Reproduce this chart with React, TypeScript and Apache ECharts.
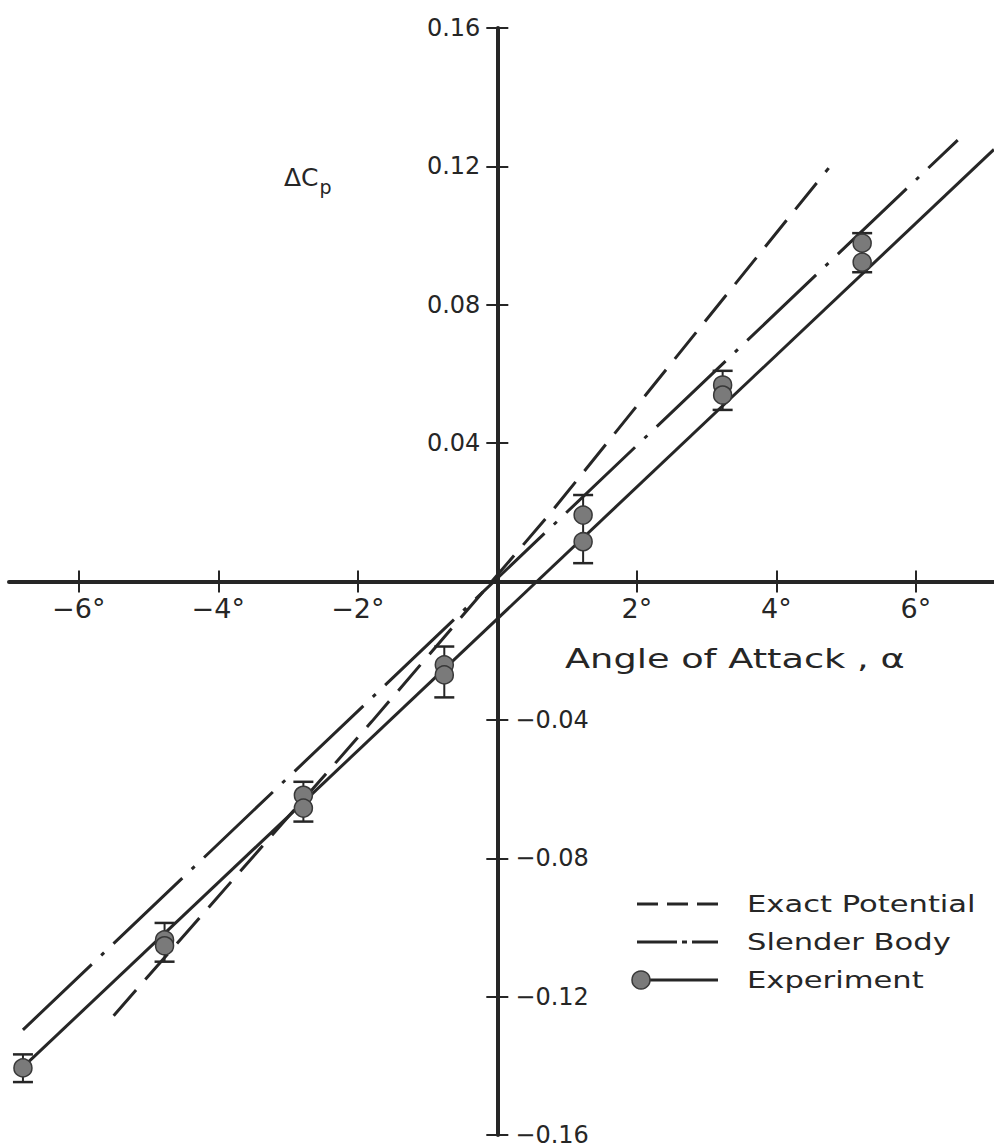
import React, { useEffect, useRef } from 'react';
import * as echarts from 'echarts';

// ---- tick values ----
const xTicks = [-6, -4, -2, 2, 4, 6];
const yTicks = [-0.16, -0.12, -0.08, -0.04, 0.04, 0.08, 0.12, 0.16];
const yLabelsPos = [0.04, 0.08, 0.12, 0.16];
const yLabelsNeg = [-0.16, -0.12, -0.08, -0.04];

// ---- experiment points (alpha in deg, delta Cp) ----
const expAlpha = [-6.8, -4.77, -4.77, -2.78, -2.78, -0.76, -0.76, 1.23, 1.23, 3.23, 3.23, 5.23, 5.23];
const expCp = [-0.1406, -0.1036, -0.1053, -0.0618, -0.0655, -0.0241, -0.027, 0.0192, 0.0115, 0.0568, 0.0539, 0.0978, 0.0923];

// ---- error bars ----
const errAlpha = [-6.8, -4.77, -2.78, -0.76, 1.23, 3.23, 5.23];
const errLow = [-0.1447, -0.1099, -0.0694, -0.0335, 0.0053, 0.0496, 0.0894];
const errHigh = [-0.1367, -0.0987, -0.0579, -0.0188, 0.025, 0.0609, 0.1007];

// ---- experiment fit line ----
const fitAlpha = [-6.8, 7.12];
const fitCp = [-0.1404, 0.1249];

// ---- slender body theory ----
const slenderAlpha = [-6.8, 6.6];
const slenderCp = [-0.1296, 0.1276];

// ---- exact potential theory ----
const exactAlpha = [-5.5, -1.8, 0.75, 4.75];
const exactCp = [-0.1255, -0.0405, 0.0195, 0.1195];

const ink = '#262626';
const font = 'DejaVu Sans';

const pairs = (a: number[], b: number[]) => a.map((v, i) => [v, b[i]]);

// layout (pixels)
const GRID_LEFT = 9;
const GRID_TOP = 28;
const GRID_BOTTOM = 13;
const X_MIN = -7;
const X_MAX = 7.12;
const Y_MIN = -0.16;
const Y_MAX = 0.16;

export default function App() {
  const ref = useRef<HTMLDivElement>(null);
  useEffect(() => {
    if (!ref.current) return;
    const chart = echarts.init(ref.current, null, { renderer: 'svg' });
    const W = 994;
    const H = 1148;
    const gridW = W - GRID_LEFT;
    const gridH = H - GRID_TOP - GRID_BOTTOM;
    // offsets that bring the axes to the origin
    const yAxisOffset = -((0 - X_MIN) / (X_MAX - X_MIN)) * gridW;
    const xAxisOffset = -((0 - Y_MIN) / (Y_MAX - Y_MIN)) * gridH;
    const tickStyle = { color: ink, width: 2 };
    const legendX0 = 637;
    const legendX1 = 718;
    const rowY = [904, 942, 980];
    const textX = 747;
    const legendText = (t: string, y: number) => ({
      type: 'text',
      x: textX,
      y,
      scaleX: 1.33,
      style: { text: t, fontSize: 23, fontFamily: font, fill: ink, verticalAlign: 'middle', align: 'left' },
    });
    const option: any = {
      animation: false,
      backgroundColor: '#ffffff',
      grid: { left: GRID_LEFT, right: 0, top: GRID_TOP, bottom: GRID_BOTTOM, containLabel: false, outerBoundsMode: 'none' },
      xAxis: [
        {
          type: 'value', min: X_MIN, max: X_MAX, position: 'bottom', offset: xAxisOffset,
          axisLine: { onZero: false, lineStyle: { color: ink, width: 4 } },
          axisTick: { show: true, length: 11, inside: false, customValues: xTicks, lineStyle: tickStyle },
          axisLabel: {
            show: true, customValues: xTicks, margin: 13, fontSize: 27, fontFamily: font, color: ink,
            formatter: (v: number) => (v < 0 ? '\u2212' : '') + Math.abs(v) + '°',
          },
          splitLine: { show: false },
        },
        {
          type: 'value', min: X_MIN, max: X_MAX, position: 'bottom', offset: xAxisOffset,
          axisLine: { show: false, onZero: false },
          axisTick: { show: true, length: 11, inside: true, customValues: xTicks, lineStyle: tickStyle },
          axisLabel: { show: false },
          splitLine: { show: false },
        },
      ],
      yAxis: [
        {
          type: 'value', min: Y_MIN, max: Y_MAX, position: 'left', offset: yAxisOffset,
          axisLine: { onZero: false, lineStyle: { color: ink, width: 4 } },
          axisTick: { show: true, length: 11, inside: false, customValues: yTicks, lineStyle: tickStyle },
          axisLabel: {
            show: true, customValues: yLabelsPos, margin: 17, fontSize: 24, fontFamily: font, color: ink,
            formatter: (v: number) => v.toFixed(2),
          },
          splitLine: { show: false },
        },
        {
          type: 'value', min: Y_MIN, max: Y_MAX, position: 'left', offset: yAxisOffset,
          axisLine: { show: false, onZero: false },
          axisTick: { show: true, length: 11, inside: true, customValues: yTicks, lineStyle: tickStyle },
          axisLabel: {
            show: true, inside: true, customValues: yLabelsNeg, margin: 18, fontSize: 24, fontFamily: font, color: ink,
            formatter: (v: number) => '\u2212' + Math.abs(v).toFixed(2),
          },
          splitLine: { show: false },
        },
      ],
      series: [
        {
          name: 'Exact Potential', type: 'line', data: pairs(exactAlpha, exactCp),
          symbol: 'none', lineStyle: { color: ink, width: 3, type: [34, 14] }, z: 3,
        },
        {
          name: 'Slender Body', type: 'line', data: pairs(slenderAlpha, slenderCp),
          symbol: 'none', lineStyle: { color: ink, width: 3, type: [95, 13, 4, 13] }, z: 3,
        },
        {
          name: 'Experiment fit', type: 'line', data: pairs(fitAlpha, fitCp),
          symbol: 'none', lineStyle: { color: ink, width: 3 }, z: 3,
        },
        {
          name: 'Error', type: 'custom',
          data: errAlpha.map((a, i) => [a, errLow[i], errHigh[i]]),
          encode: { x: 0, y: [1, 2] },
          renderItem: (params: any, api: any) => {
            const a = api.value(0);
            const lo = api.coord([a, api.value(1)]);
            const hi = api.coord([a, api.value(2)]);
            const w = 10;
            const st = { stroke: ink, lineWidth: 2.5 };
            return {
              type: 'group',
              children: [
                { type: 'line', shape: { x1: lo[0], y1: lo[1], x2: hi[0], y2: hi[1] }, style: { stroke: ink, lineWidth: 2 } },
                { type: 'line', shape: { x1: lo[0] - w, y1: lo[1], x2: lo[0] + w, y2: lo[1] }, style: st },
                { type: 'line', shape: { x1: hi[0] - w, y1: hi[1], x2: hi[0] + w, y2: hi[1] }, style: st },
              ],
            };
          },
          z: 4,
        },
        {
          name: 'Experiment', type: 'scatter', data: pairs(expAlpha, expCp),
          symbol: 'circle', symbolSize: 18,
          itemStyle: { color: '#7a7a7a', borderColor: '#383838', borderWidth: 1.5, opacity: 1 },
          z: 5,
        },
      ],
      graphic: [
        {
          type: 'text', x: 284, y: 164,
          style: {
            text: '{a|ΔC}{b|p}', fontFamily: font, fill: ink, verticalAlign: 'top', align: 'left',
            rich: {
              a: { fontSize: 25, lineHeight: 27, fontFamily: font, fill: ink },
              b: { fontSize: 19, lineHeight: 19, padding: [18, 0, 0, 1], fontFamily: font, fill: ink },
            },
          },
        },
        {
          type: 'text', x: 565, y: 659, scaleX: 1.36,
          style: { text: 'Angle of Attack , α', fontSize: 27, fontFamily: font, fill: ink, verticalAlign: 'middle', align: 'left' },
        },
        { type: 'line', shape: { x1: legendX0, y1: rowY[0], x2: legendX1, y2: rowY[0] }, style: { stroke: ink, lineWidth: 3, lineDash: [21, 9] } },
        { type: 'line', shape: { x1: legendX0, y1: rowY[1], x2: legendX1, y2: rowY[1] }, style: { stroke: ink, lineWidth: 3, lineDash: [40, 5, 5, 5] } },
        { type: 'line', shape: { x1: legendX0 + 4, y1: rowY[2], x2: legendX1, y2: rowY[2] }, style: { stroke: ink, lineWidth: 3 } },
        { type: 'circle', shape: { cx: legendX0 + 4, cy: rowY[2], r: 9 }, style: { fill: '#7a7a7a', stroke: '#383838', lineWidth: 1.5 } },
        legendText('Exact Potential', rowY[0]),
        legendText('Slender Body', rowY[1]),
        legendText('Experiment', rowY[2]),
      ],
    };
    chart.setOption(option);
    return () => chart.dispose();
  }, []);
  return <div ref={ref} style={{ position: 'absolute', left: 0, top: 0, width: 994, height: 1148 }} />;
}
